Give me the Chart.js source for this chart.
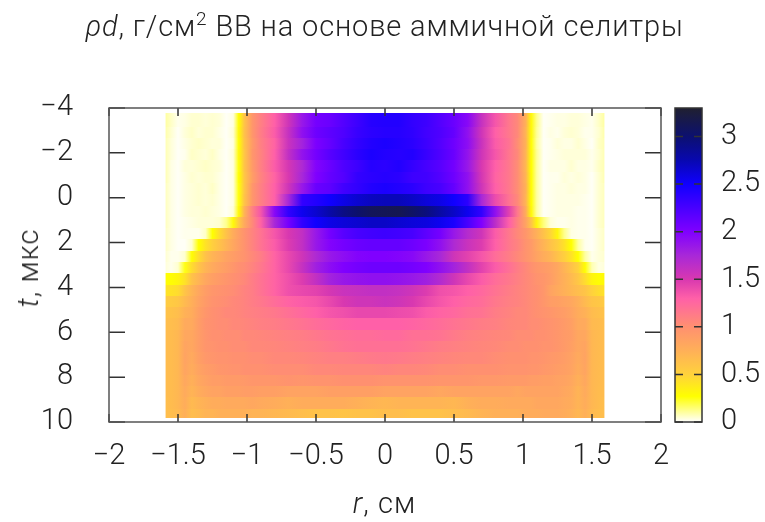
<!DOCTYPE html>
<html lang="ru">
<head>
	<meta charset="utf-8">
	<title>ρd</title>
	<style>
body { margin: 0; background: #fff; }
#wrap { position: relative; width: 765px; height: 522px; overflow: hidden; font-family: Roboto, "Open Sans", sans-serif; font-weight: 300; color: #222; }
#wrap div { position: absolute; white-space: nowrap; }
#title { left: 0; width: 769px; text-align: center; top: 9px; font-size: 29px; letter-spacing: 0.85px; }
#title sup { font-size: 19px; line-height: 0; }
#xlabel { left: 0; width: 769px; text-align: center; top: 486px; font-size: 29px; letter-spacing: 1px; }
#ylabel { left: 28px; top: 268px; font-size: 29px; letter-spacing: 1px; transform: translate(-50%, -50%) rotate(-90deg); }
	</style>
</head>
<body>
<div id="wrap">
	<canvas id="myChart" width="765" height="522"></canvas>
	<div id="title"><i>ρd</i>, г/см<sup>2</sup> ВВ на основе аммичной селитры</div>
	<div id="xlabel"><i>r</i>, см</div>
	<div id="ylabel"><i>t</i>, мкс</div>
</div>

<script src="https://cdn.jsdelivr.net/npm/chart.js"></script>
<script>
// column positions, r in cm
const rValues = [-1.59,-1.55,-1.5,-1.45,-1.4,-1.35,-1.3,-1.25,-1.2,-1.15,-1.1,-1.06,-1.02,-.96,-.9,-.8,-.7,-.6,-.5,-.4,-.3,-.2,-.1,0,.1,.2,.3,.4,.5,.6,.7,.8,.9,.96,1.02,1.06,1.1,1.15,1.2,1.25,1.3,1.35,1.4,1.45,1.5,1.55,1.59];
// frame times, t in us
const tValues = [-3.42,-2.92,-2.42,-1.91,-1.41,-0.91,-0.41,0.1,0.6,1.1,1.61,2.11,2.61,3.12,3.62,4.12,4.63,5.13,5.63,6.14,6.64,7.14,7.65,8.15,8.65,9.16,9.66];
const tFirst = -3.78, tLast = 9.8;
const xTicks = [-2,-1.5,-1,-0.5,0,0.5,1,1.5,2];
const yTicks = [-4,-2,0,2,4,6,8,10];
const cbTicks = [0,0.5,1,1.5,2,2.5,3];

// rho*d, one row per frame
const rhoD = [
[.10,.06,.02,.03,.05,.05,.04,.05,.04,.01,.03,.28,.60,.95,1.10,1.30,1.55,1.85,2.05,2.10,2.20,2.30,2.40,2.42,2.42,2.35,2.30,2.20,2.10,1.95,1.60,1.35,1.15,1.05,.75,.30,.12,.01,.02,.03,.03,.04,.04,.03,.02,.06,.10],
[.09,.05,.01,.04,.06,.04,.05,.05,.03,.01,.04,.30,.62,.95,1.12,1.32,1.60,1.90,2.08,2.15,2.22,2.32,2.38,2.40,2.40,2.36,2.28,2.22,2.12,1.90,1.55,1.30,1.15,1.05,.72,.30,.11,.01,.03,.02,.04,.05,.04,.02,.02,.05,.09],
[.08,.04,.01,.03,.05,.06,.05,.04,.04,.01,.03,.28,.60,.92,1.10,1.28,1.58,1.78,2.02,2.12,2.25,2.35,2.42,2.45,2.42,2.38,2.30,2.20,2.08,1.92,1.58,1.32,1.18,1.02,.74,.28,.10,.01,.02,.04,.03,.03,.05,.03,.01,.06,.08],
[.08,.04,.01,.02,.06,.05,.04,.06,.03,.01,.04,.30,.58,.95,1.08,1.30,1.62,1.88,2.05,2.18,2.28,2.38,2.45,2.42,2.40,2.42,2.32,2.22,2.10,1.88,1.55,1.35,1.16,1.05,.72,.29,.11,.01,.02,.03,.04,.04,.04,.04,.02,.05,.08],
[.08,.03,.01,.04,.04,.05,.06,.05,.04,.01,.03,.26,.60,.92,1.10,1.32,1.52,1.72,1.98,2.10,2.22,2.30,2.40,2.38,2.42,2.34,2.26,2.18,2.06,1.85,1.50,1.30,1.15,1.02,.70,.27,.10,.01,.03,.03,.03,.05,.03,.03,.02,.06,.08],
[.08,.03,.01,.03,.05,.04,.05,.05,.03,.01,.03,.27,.58,.90,1.08,1.28,1.50,1.75,2.00,2.12,2.20,2.34,2.38,2.40,2.38,2.30,2.28,2.20,2.08,1.90,1.52,1.28,1.15,1.02,.72,.28,.10,.01,.02,.02,.04,.03,.04,.03,.01,.05,.08],
[.07,.03,.01,.03,.04,.05,.04,.06,.03,.01,.03,.26,.58,.95,1.10,1.30,1.55,1.85,2.10,2.15,2.28,2.35,2.42,2.45,2.42,2.38,2.30,2.25,2.12,1.90,1.55,1.30,1.15,1.02,.74,.28,.10,.01,.02,.03,.03,.04,.03,.03,.01,.05,.07],
[.07,.03,.01,.03,.04,.05,.04,.05,.03,.01,.03,.26,.60,.95,1.10,1.30,1.75,2.35,2.42,2.50,2.58,2.65,2.70,2.72,2.72,2.68,2.62,2.58,2.50,2.38,1.75,1.40,1.18,1.05,.72,.28,.10,.01,.02,.03,.03,.03,.03,.02,.01,.05,.07],
[.07,.03,.01,.03,.04,.04,.05,.04,.03,.01,.04,.30,.72,1.10,1.35,1.95,2.35,2.55,2.65,2.78,2.92,3.02,3.10,3.12,3.14,3.05,2.95,2.80,2.68,2.55,2.35,1.90,1.45,1.15,.78,.30,.10,.01,.02,.03,.03,.03,.02,.02,.01,.05,.07],
[.07,.03,.01,.02,.03,.04,.04,.04,.05,.12,.30,.55,.80,1.05,1.28,1.75,2.05,2.35,2.50,2.58,2.62,2.65,2.68,2.68,2.65,2.62,2.60,2.55,2.45,2.25,2.00,1.65,1.30,1.08,.85,.60,.32,.14,.04,.02,.02,.03,.02,.02,.01,.05,.07],
[.06,.03,.01,.02,.02,.02,.06,.27,.45,.62,.78,.88,.98,1.08,1.18,1.35,1.50,1.62,1.85,2.05,2.18,2.25,2.28,2.30,2.28,2.25,2.15,2.05,1.85,1.68,1.55,1.32,1.15,1.05,.95,.85,.75,.62,.48,.32,.12,.03,.02,.02,.01,.04,.06],
[.06,.03,.01,.01,.05,.27,.42,.52,.62,.72,.82,.90,.98,1.08,1.18,1.32,1.48,1.62,1.85,1.98,2.05,2.10,2.12,2.12,2.12,2.08,2.02,1.90,1.72,1.58,1.48,1.30,1.15,1.08,.98,.92,.82,.72,.62,.52,.42,.27,.10,.02,.01,.04,.06],
[.05,.02,.02,.05,.28,.45,.62,.72,.78,.85,.90,.94,.98,1.05,1.12,1.28,1.42,1.55,1.72,1.85,1.92,1.98,2.0,2.0,1.98,1.95,1.85,1.75,1.55,1.45,1.35,1.22,1.12,1.05,.98,.92,.85,.78,.72,.62,.52,.42,.27,.10,.02,.04,.05],
[.04,.02,.05,.25,.45,.60,.72,.80,.85,.90,.95,1.0,1.02,1.08,1.15,1.28,1.42,1.60,1.80,1.92,2.0,2.05,2.08,2.08,2.08,2.05,2.0,1.9,1.78,1.62,1.45,1.32,1.2,1.12,1.05,1.0,.95,.92,.88,.82,.72,.62,.5,.28,.08,.03,.04],
[.28,.28,.32,.42,.62,.72,.82,.88,.92,.96,1.0,1.02,1.05,1.12,1.18,1.28,1.38,1.48,1.62,1.78,1.85,1.88,1.90,1.90,1.88,1.85,1.80,1.70,1.55,1.42,1.32,1.22,1.15,1.10,1.05,1.02,.98,.95,.90,.82,.75,.68,.58,.45,.32,.28,.30],
[.42,.42,.45,.60,.72,.82,.90,.95,.98,1.0,1.02,1.05,1.08,1.12,1.18,1.28,1.38,1.42,1.45,1.52,1.58,1.60,1.62,1.62,1.60,1.55,1.48,1.38,1.35,1.30,1.25,1.18,1.12,1.08,1.05,1.02,1.0,.95,.85,.80,.75,.70,.65,.60,.50,.45,.42],
[.55,.55,.58,.68,.76,.85,.92,.98,1.0,1.02,1.05,1.06,1.08,1.12,1.15,1.22,1.28,1.32,1.35,1.42,1.50,1.55,1.55,1.58,1.55,1.50,1.42,1.35,1.30,1.25,1.22,1.15,1.10,1.08,1.05,1.02,1.0,.95,.90,.88,.85,.82,.76,.68,.60,.58,.55],
[.62,.62,.65,.74,.78,.88,.95,1.0,1.02,1.05,1.05,1.06,1.08,1.10,1.12,1.15,1.2,1.25,1.3,1.35,1.38,1.42,1.42,1.42,1.40,1.38,1.32,1.28,1.25,1.2,1.18,1.12,1.08,1.05,1.05,1.02,1.0,.98,.95,.92,.9,.85,.78,.74,.66,.63,.62],
[.65,.65,.68,.80,.8,.90,.98,1.0,1.02,1.02,1.05,1.05,1.06,1.08,1.1,1.12,1.15,1.18,1.22,1.25,1.28,1.3,1.3,1.3,1.3,1.28,1.25,1.22,1.18,1.15,1.12,1.1,1.06,1.05,1.05,1.02,1.02,1.0,.98,.95,.92,.88,.8,.80,.68,.66,.65],
[.66,.66,.70,.82,.82,.90,.96,1.0,1.0,1.02,1.02,1.02,1.05,1.05,1.06,1.08,1.1,1.12,1.15,1.18,1.2,1.22,1.22,1.24,1.24,1.2,1.2,1.18,1.14,1.1,1.08,1.06,1.05,1.02,1.02,1.02,1.0,1.0,.98,.95,.92,.9,.82,.82,.7,.67,.66],
[.66,.66,.70,.84,.82,.90,.96,.98,1.0,1.0,1.02,1.02,1.02,1.05,1.05,1.06,1.08,1.1,1.12,1.15,1.18,1.2,1.2,1.2,1.2,1.18,1.15,1.12,1.1,1.08,1.06,1.05,1.02,1.02,1.0,1.0,1.0,.98,.98,.95,.92,.88,.82,.84,.7,.67,.66],
[.66,.66,.70,.85,.8,.88,.94,.96,.98,.98,1.0,1.0,1.0,1.02,1.02,1.05,1.05,1.06,1.08,1.1,1.1,1.12,1.14,1.15,1.14,1.12,1.1,1.08,1.06,1.05,1.05,1.02,1.0,1.0,1.0,.98,.98,.96,.94,.92,.9,.86,.8,.85,.7,.67,.66],
[.66,.66,.70,.84,.78,.85,.90,.92,.95,.96,.98,.98,1.0,1.0,1.0,1.02,1.02,1.02,1.05,1.05,1.06,1.06,1.06,1.08,1.06,1.06,1.05,1.02,1.02,1.0,1.0,1.0,.98,.98,.98,.96,.96,.94,.92,.9,.88,.85,.78,.84,.7,.67,.66],
[.66,.66,.70,.82,.75,.82,.86,.9,.9,.92,.92,.92,.93,.95,.95,.95,.98,.96,.98,.98,1.0,1.0,1.0,.98,.98,.98,.98,.96,.96,.96,.94,.94,.92,.92,.92,.9,.9,.88,.88,.86,.85,.82,.75,.82,.7,.67,.66],
[.66,.66,.70,.80,.72,.78,.82,.85,.85,.88,.88,.88,.9,.9,.88,.88,.85,.85,.85,.88,.88,.88,.88,.85,.85,.85,.85,.82,.85,.85,.85,.85,.85,.82,.85,.85,.85,.85,.85,.85,.82,.8,.72,.80,.7,.66,.66],
[.65,.66,.70,.78,.68,.72,.75,.78,.78,.8,.8,.8,.8,.82,.8,.78,.75,.78,.78,.78,.78,.75,.72,.7,.72,.72,.72,.72,.7,.75,.78,.78,.8,.8,.8,.8,.82,.82,.82,.82,.8,.78,.72,.78,.7,.66,.65],
[.65,.65,.68,.76,.65,.68,.72,.72,.75,.75,.75,.75,.75,.72,.72,.7,.68,.65,.62,.62,.6,.62,.62,.65,.65,.62,.62,.62,.65,.68,.72,.75,.75,.75,.78,.78,.78,.8,.8,.8,.78,.75,.7,.76,.68,.65,.65]
];

// palette
const cbValues = [0,.27,.5,.75,1,1.3,1.5,1.75,2,2.25,2.5,2.75,3,3.3];
const cbColors = [[255,255,255],[255,255,0],[255,210,60],[255,176,88],[255,144,112],[255,96,168],[216,56,176],[168,40,216],[128,0,255],[72,0,255],[16,0,255],[8,8,176],[12,16,112],[32,32,48]];

function colorFor(v) {
	let i = 1;
	while(i < cbValues.length - 1 && v > cbValues[i]) i++;
	let f = Math.min(1, Math.max(0, (v - cbValues[i-1]) / (cbValues[i] - cbValues[i-1])));
	let c = cbColors[i-1].map((a, k) => Math.round(a + (cbColors[i][k] - a) * f));
	return `rgb(${c[0]},${c[1]},${c[2]})`;
}

const heatmap = {
	id: 'heatmap',
	beforeDatasetsDraw(chart) {
		const {ctx, scales: {x, y}} = chart;
		const left = x.getPixelForValue(rValues[0]);
		const right = x.getPixelForValue(rValues[rValues.length-1]);
		tValues.forEach((t, i) => {
			let t0 = i == 0 ? tFirst : (tValues[i-1] + t) / 2;
			let t1 = i == tValues.length-1 ? tLast : (tValues[i+1] + t) / 2;
			let y0 = Math.round(y.getPixelForValue(t0));
			let y1 = Math.round(y.getPixelForValue(t1));
			let grad = ctx.createLinearGradient(left, 0, right, 0);
			rhoD[i].forEach((v, k) => {
				grad.addColorStop((x.getPixelForValue(rValues[k]) - left) / (right - left), colorFor(v));
			});
			ctx.fillStyle = grad;
			ctx.fillRect(left, y0, right - left, y1 - y0);
		});
	}
};

const frame = {
	id: 'frame',
	afterDraw(chart) {
		const {ctx, chartArea: a, scales: {x, y, cb}} = chart;
		ctx.save();
		// colour bar, sits in the empty gap of the right axis
		const barL = 675, barR = 702;
		let grad = ctx.createLinearGradient(0, cb.getPixelForValue(0), 0, cb.getPixelForValue(cb.max));
		cbValues.forEach((v, i) => {
			let c = cbColors[i];
			grad.addColorStop(v / cb.max, `rgb(${c[0]},${c[1]},${c[2]})`);
		});
		ctx.fillStyle = grad;
		ctx.fillRect(barL, a.top, barR - barL, a.bottom - a.top);

		ctx.lineWidth = 1.5;
		ctx.strokeStyle = '#333';
		ctx.beginPath();
		for(let v of xTicks) {
			let p = x.getPixelForValue(v);
			ctx.moveTo(p, a.top); ctx.lineTo(p, a.top + 8);
			ctx.moveTo(p, a.bottom); ctx.lineTo(p, a.bottom - 8);
		}
		for(let v of yTicks) {
			let p = y.getPixelForValue(v);
			ctx.moveTo(a.left, p); ctx.lineTo(a.left + 16, p);
			ctx.moveTo(a.right, p); ctx.lineTo(a.right - 16, p);
		}
		for(let v of cbTicks) {
			let p = cb.getPixelForValue(v);
			ctx.moveTo(barL, p); ctx.lineTo(barL + 8, p);
			ctx.moveTo(barR, p); ctx.lineTo(barR - 8, p);
		}
		ctx.stroke();

		ctx.strokeStyle = '#555';
		ctx.strokeRect(a.left, a.top, a.right - a.left, a.bottom - a.top);
		ctx.strokeStyle = '#333';
		ctx.strokeRect(barL, a.top, barR - barL, a.bottom - a.top);
		ctx.restore();
	}
};

const tickFont = {family: 'Roboto, "Open Sans", sans-serif', size: 29, weight: '300'};
const minus = v => String(v).replace('-', '\u2212');
const noGrid = {display: false, drawBorder: false};

new Chart(document.getElementById('myChart'), {
	type: 'scatter',
	data: {
		datasets: [{
			label: 'rho d',
			pointRadius: 0,
			data: tValues.flatMap((t, i) => rValues.map((r, k) => ({x: r, y: t, v: rhoD[i][k]})))
		}]
	},
	plugins: [heatmap, frame],
	options: {
		responsive: false,
		animation: false,
		events: [],
		layout: {padding: {top: 108}},
		plugins: {legend: {display: false}, tooltip: {enabled: false}},
		scales: {
			x: {
				type: 'linear', min: -2, max: 2,
				grid: noGrid, border: {display: false},
				afterFit: s => { s.height = 100; },
				afterBuildTicks: s => { s.ticks = xTicks.map(value => ({value})); },
				ticks: {color: '#222', font: tickFont, padding: 9, maxRotation: 0, autoSkip: false, callback: minus}
			},
			y: {
				type: 'linear', reverse: true, min: -4, max: 10,
				grid: noGrid, border: {display: false},
				afterFit: s => { s.width = 109; },
				afterBuildTicks: s => { s.ticks = yTicks.map(value => ({value})); },
				ticks: {color: '#222', font: tickFont, padding: 28, autoSkip: false, callback: minus}
			},
			cb: {
				type: 'linear', position: 'right', min: 0, max: 3.3,
				grid: noGrid, border: {display: false},
				afterFit: s => { s.width = 104; },
				afterBuildTicks: s => { s.ticks = cbTicks.map(value => ({value})); },
				ticks: {color: '#222', font: tickFont, padding: 52, autoSkip: false, callback: v => String(v)}
			}
		}
	}
});
</script>
</body>
</html>
